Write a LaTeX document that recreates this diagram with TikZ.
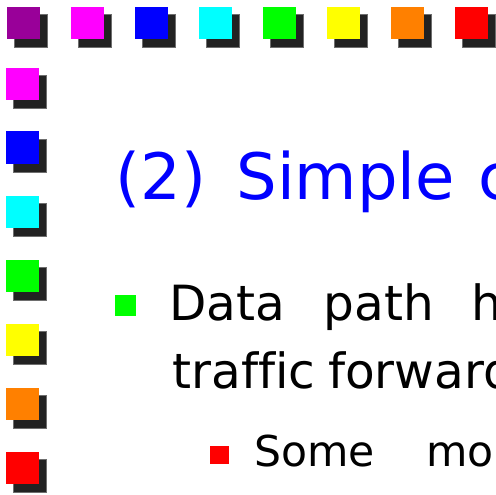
\documentclass[tikz,border=0pt]{standalone}
\usepackage{fontspec}
\setmainfont{DejaVu Sans}[Ligatures=NoCommon]
\definecolor{tilepurple}{RGB}{153,0,153}
\definecolor{tilemagenta}{RGB}{255,0,255}
\definecolor{tileblue}{RGB}{0,0,255}
\definecolor{tilecyan}{RGB}{0,255,255}
\definecolor{tilegreen}{RGB}{0,255,0}
\definecolor{tileyellow}{RGB}{255,255,0}
\definecolor{tileorange}{RGB}{255,128,0}
\definecolor{tilered}{RGB}{255,0,0}
\definecolor{shadowfill}{RGB}{34,34,34}
\definecolor{shadowedge}{RGB}{110,110,110}
\definecolor{titleblue}{RGB}{0,0,255}
\tikzset{
  shadowbox/.style={fill=shadowfill, draw=shadowedge, line width=0.9pt},
  word/.style={anchor=base west, inner sep=0pt, outer sep=0pt},
  titletext/.style={word, text=titleblue, font=\fontsize{64}{70}\selectfont},
  bodytext/.style={word, text=black, font=\fontsize{48.5}{56}\selectfont},
  subtext/.style={word, text=black, font=\fontsize{42.5}{48}\selectfont}
}
% a coloured tile with a dark drop shadow; #1 = x, #2 = y (top left), #3 = colour
\newcommand{\shadowtile}[3]{%
  \draw[shadowbox] ({#1+7.5},{#2+7.5}) rectangle ++(33,33);
  \fill[#3] (#1,#2) rectangle ++(32.5,32.5);
}
\begin{document}
\begin{tikzpicture}[x=1pt, y=-1pt]
  \useasboundingbox (0,0) rectangle (496,495);
  \clip (0,0) rectangle (496,495);
  \fill[white] (0,0) rectangle (496,495);

  % top row of tiles
  \shadowtile{7}{7}{tilepurple}
  \shadowtile{71}{7}{tilemagenta}
  \shadowtile{135}{7}{tileblue}
  \shadowtile{199}{7}{tilecyan}
  \shadowtile{263}{7}{tilegreen}
  \shadowtile{327}{7}{tileyellow}
  \shadowtile{391}{7}{tileorange}
  \shadowtile{455}{7}{tilered}

  % left column of tiles
  \shadowtile{6}{68}{tilemagenta}
  \shadowtile{6}{131.5}{tileblue}
  \shadowtile{6}{195.5}{tilecyan}
  \shadowtile{6}{259.5}{tilegreen}
  \shadowtile{6}{323.5}{tileyellow}
  \shadowtile{6}{387.5}{tileorange}
  \shadowtile{6}{451.5}{tilered}

  % title
  \node[titletext] (tnum) at (115.5,199) {(2)};
  \node[titletext] (tsimple) at (236.5,199) {Simple};
  \node[titletext] (tnext) at (478.4,199) {c};

  % first-level bullet
  \fill[tilegreen] (115,295) rectangle (136,316);
  \node[bodytext] (wdata) at (169.3,320) {Data};
  \node[bodytext] (wpath) at (323.6,320) {path};
  \node[bodytext] (wh) at (471.6,320) {h};
  \node[bodytext] (wtraffic) at (172.6,388) {traffic};
  \node[bodytext] (wforward) at (328,388) {forward};

  % second-level bullet
  \fill[tilered] (210,446) rectangle (229,464);
  \node[subtext] (wsome) at (254.3,466) {Some};
  \node[subtext] (wmo) at (426.2,466) {mo};
\end{tikzpicture}
\end{document}
